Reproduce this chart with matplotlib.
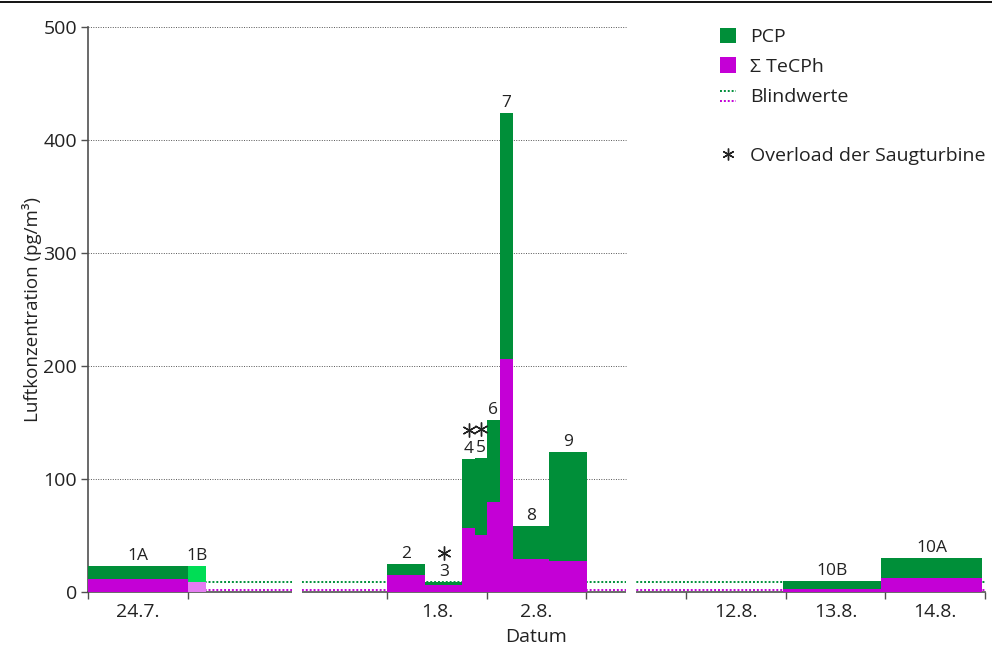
import matplotlib
matplotlib.use("Agg")
import matplotlib.pyplot as plt
from matplotlib.lines import Line2D
from matplotlib.patches import Patch, Rectangle
from matplotlib.legend_handler import HandlerBase
from matplotlib.transforms import offset_copy, blended_transform_factory

plt.rcParams["font.family"] = ["Open Sans", "DejaVu Sans"]

# sampling intervals on the compressed time axis (1 unit = 1 day)
samples = ["1A", "1B", "2", "3", "4", "5", "6", "7", "8", "9", "10B", "10A"]
t_start = [0.0, 1.0, 3.0, 3.385, 3.757, 3.887, 4.005, 4.13, 4.26, 4.63, 6.97, 7.96]
t_end = [1.0, 1.185, 3.385, 3.757, 3.887, 4.005, 4.13, 4.26, 4.63, 5.01, 7.96, 8.97]
tecph = [11.5, 8.5, 15.0, 6.5, 56.6, 50.4, 79.6, 206.0, 29.0, 27.4, 2.7, 12.7]
pcp = [11.5, 14.5, 9.8, 2.5, 61.1, 68.2, 72.4, 218.0, 29.4, 96.6, 6.6, 17.3]
partial = [False, True, False, False, False, False, False, False, False, False, False, False]
overload = [False, False, False, True, True, True, False, False, False, False, False, False]

blank_pcp = 8.8
blank_tecph = 2.0

day_edges = [0, 1, 3, 4, 5, 6, 7, 8, 9]
day_centers = [0.5, 3.5, 4.5, 6.5, 7.5, 8.5]
day_labels = ["24.7.", "1.8.", "2.8.", "12.8.", "13.8.", "14.8."]
axis_breaks = [(2.05, 2.15), (5.4, 5.5)]

GREEN = "#008f39"
MAGENTA = "#c400d6"
GREEN_LIGHT = "#00dd55"
MAGENTA_LIGHT = "#e57cf2"
AXIS = "#505050"
TEXT = "#222222"


class DoubleDotted:
    pass


class DoubleDottedHandler(HandlerBase):
    def create_artists(self, legend, orig_handle, xdescent, ydescent,
                       width, height, fontsize, trans):
        out = []
        for frac, col in ((0.75, GREEN), (0.1, MAGENTA)):
            y = height * frac - ydescent
            out.append(Line2D([-xdescent, width - xdescent], [y, y], color=col,
                              lw=1.4, ls=(0, (1, 1)), transform=trans))
        return out


fig = plt.figure(figsize=(9.92, 6.57), dpi=100)
ax = fig.add_axes([88 / 992, 65 / 657, 897 / 992, 565 / 657])

widths = [e - s for s, e in zip(t_start, t_end)]
centers = [s + w / 2 for s, w in zip(t_start, widths)]
totals = [a + b for a, b in zip(tecph, pcp)]
col_t = [MAGENTA_LIGHT if p else MAGENTA for p in partial]
col_p = [GREEN_LIGHT if p else GREEN for p in partial]

ax.bar(t_start, tecph, width=widths, align="edge", color=col_t, zorder=3)
ax.bar(t_start, pcp, bottom=tecph, width=widths, align="edge", color=col_p, zorder=3)

# blank values across the whole time axis, behind the bars
ax.axhline(blank_pcp, color=GREEN, lw=1.4, ls=(0, (1, 1)), zorder=2)
ax.axhline(blank_tecph, color=MAGENTA, lw=1.4, ls=(0, (1, 1)), zorder=2)

# grid only in the left part (legend sits on the right)
ax.hlines([100, 200, 300, 400, 500], 0, axis_breaks[1][0], colors="#555555",
          linestyles=(0, (1, 1.5)), lw=0.7, zorder=1, clip_on=False)

for c, top, lab in zip(centers, totals, samples):
    ax.annotate(lab, (c, top), xytext=(0, 1.5), textcoords="offset points",
                ha="center", va="bottom", fontsize=12.5, color=TEXT)

star_tr = offset_copy(ax.transData, fig=fig, y=21, units="points")
sx = [c for c, o in zip(centers, overload) if o]
sy = [t for t, o in zip(totals, overload) if o]
ax.plot(sx, sy, ls="none", marker=(6, 2, 0), ms=10, mew=1.0, color=TEXT,
        transform=star_tr, clip_on=False, zorder=4)

# axis breaks
btr = blended_transform_factory(ax.transData, ax.transAxes)
for a, b in axis_breaks:
    ax.add_patch(Rectangle((a, -0.02), b - a, 0.045, transform=btr,
                           facecolor="white", edgecolor="none", clip_on=False, zorder=5))

ax.set_xlim(0, 9)
ax.set_ylim(0, 500)
ax.set_yticks([0, 100, 200, 300, 400, 500])
ax.set_xticks(day_edges)
ax.set_xticklabels([])
ax.set_xticks(day_centers, minor=True)
ax.set_xticklabels(day_labels, minor=True)
ax.tick_params(axis="x", which="major", length=5, width=1, color=AXIS, direction="out")
ax.tick_params(axis="x", which="minor", length=0, pad=8, labelsize=14, labelcolor=TEXT)
ax.tick_params(axis="y", length=5, width=1, color=AXIS, pad=3, labelsize=14, labelcolor=TEXT)

for s in ("top", "right"):
    ax.spines[s].set_visible(False)
for s in ("left", "bottom"):
    ax.spines[s].set_color(AXIS)
    ax.spines[s].set_linewidth(1.2)

ax.set_ylabel("Luftkonzentration (pg/m³)", fontsize=13.5, color=TEXT, labelpad=1)
ax.set_xlabel("Datum", fontsize=14, color=TEXT, labelpad=5)

handles = [
    Patch(facecolor=GREEN, edgecolor="none"),
    Patch(facecolor=MAGENTA, edgecolor="none"),
    DoubleDotted(),
    Line2D([], [], ls="none"),
    Line2D([], [], ls="none", marker=(6, 2, 0), ms=8.5, mew=1.0, color=TEXT),
]
labels = ["PCP", "Σ TeCPh", "Blindwerte", " ", "Overload der Saugturbine"]
ax.legend(handles, labels, loc="upper left", bbox_to_anchor=(0.685, 1.03),
          frameon=False, fontsize=14, handlelength=0.85, handleheight=0.85,
          handletextpad=0.7, labelspacing=0.58, labelcolor=TEXT,
          handler_map={DoubleDotted: DoubleDottedHandler()})

fig.add_artist(Line2D([0, 1], [0.997, 0.997], color="black", lw=1.3,
                      transform=fig.transFigure))

fig.savefig("out.png", dpi=100)
